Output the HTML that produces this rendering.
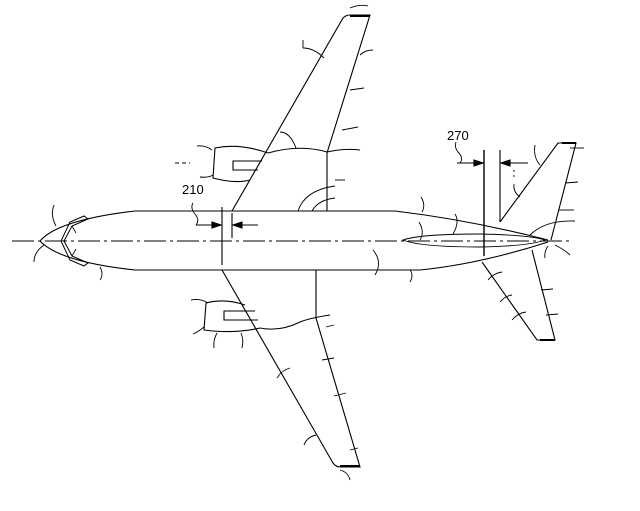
<!DOCTYPE html>
<html><head><meta charset="utf-8"><style>
html,body{margin:0;padding:0;background:#fff;width:640px;height:511px;overflow:hidden}
svg{display:block}
text{font-family:"Liberation Sans",sans-serif;font-size:13px;fill:#000;stroke:none}
</style></head><body>
<svg width="640" height="511" viewBox="0 0 640 511" fill="none" stroke="#000" stroke-width="1.1">
<line x1="12" y1="241" x2="572" y2="241" stroke-dasharray="22,4,3,4" stroke-width="0.9"/>
<path d="M40,241 Q58,220 135,211 L395,211 Q470,220 548,240"/>
<path d="M40,241 Q60,262 135,270 L420,270 Q480,264 548,242"/>
<path d="M403,240 Q420,234 480,234 Q530,235 545,240 Q530,246 480,247 Q420,247 403,240 Z" stroke-width="0.9"/>
<path d="M64,241 L72,226 L88,219 L84,216 L70,222 L61,241 L70,260 L84,266 L88,263 L72,256 Z" stroke-width="1"/>
<path d="M72,226 L76,233 M72,256 L76,249" stroke-width="0.8"/>
<path d="M232,211 L343,18 Q346,15 350,15 L370,15 L327,153 L327,211"/>
<line x1="350" y1="16" x2="370" y2="16" stroke-width="2"/>
<path d="M222,270 L333,463 Q336,467 340,467 L360,467 L316,318 L316,270"/>
<line x1="340" y1="466" x2="360" y2="466" stroke-width="2"/>
<path d="M268,153 Q240,143 215,148 L213,178 Q235,184 250,180"/>
<path d="M262,161 L233,161 L233,170 L258,170"/>
<path d="M268,153 Q300,144 327,152 Q345,148 360,150" stroke-width="1"/>
<path d="M245,305 Q225,298 206,303 L204,330 Q235,334 260,328"/>
<path d="M255,311 L224,311 L224,320 L258,320"/>
<path d="M260,328 Q280,332 300,322 Q310,318 330,315" stroke-width="1"/>
<path d="M500,222 L558,143 L576,143 L551,240"/>
<line x1="562" y1="143" x2="576" y2="143" stroke-width="2"/>
<path d="M482,262 L537,340 L555,340 L532,250"/>
<line x1="540" y1="340" x2="555" y2="340" stroke-width="2"/>
<path d="M298,211 Q305,190 335,186" stroke-width="0.9"/>
<path d="M312,211 Q318,200 335,198" stroke-width="0.9"/>
<path d="M530,235 Q545,220 575,221" stroke-width="0.9"/>
<line x1="222" y1="207" x2="222" y2="265"/>
<line x1="232" y1="213" x2="232" y2="238"/>
<line x1="196" y1="225" x2="222" y2="225"/>
<path d="M212,222 L221,225 L212,228 Z" fill="#000"/>
<line x1="232" y1="225" x2="258" y2="225"/>
<path d="M242,222 L233,225 L242,228 Z" fill="#000"/>
<path d="M196,225 Q200,220 195,214 Q190,208 193,203" stroke-width="0.9"/>
<text x="182" y="194">210</text>
<line x1="484" y1="150" x2="484" y2="256" stroke-width="1.4"/>
<line x1="500" y1="150" x2="500" y2="222"/>
<line x1="457" y1="163" x2="484" y2="163"/>
<path d="M474,160 L483,163 L474,166 Z" fill="#000"/>
<line x1="500" y1="163" x2="528" y2="163"/>
<path d="M510,160 L501,163 L510,166 Z" fill="#000"/>
<path d="M460,163 Q464,158 458,152 Q454,147 456,142" stroke-width="0.9"/>
<text x="447" y="140">270</text>
<g stroke-width="0.9">
<path d="M56,226 Q50,215 54,205"/>
<path d="M44,245 Q34,252 34,262"/>
<path d="M100,267 Q104,274 100,280"/>
<path d="M373,250 Q383,262 375,275"/>
<path d="M420,240 Q425,232 419,222"/>
<path d="M410,270 Q414,275 410,282"/>
<path d="M422,212 Q426,205 421,197"/>
<path d="M453,234 Q460,222 455,214"/>
<path d="M324,58 Q314,48 303,48"/>
<path d="M303,40 L303,48"/>
<path d="M296,148 Q290,132 280,132"/>
<path d="M350,8 Q360,4 368,6"/>
<path d="M360,55 Q365,50 373,50"/>
<path d="M350,90 L364,88"/>
<path d="M342,130 L358,127"/>
<path d="M335,180 L345,180"/>
<path d="M212,150 Q205,145 197,146"/>
<path d="M213,175 Q208,178 200,177"/>
<path d="M175,163 L190,163" stroke-dasharray="4,3"/>
<path d="M208,303 Q200,298 191,300"/>
<path d="M204,327 Q198,332 193,334"/>
<path d="M217,333 Q213,340 214,348"/>
<path d="M241,333 Q244,340 242,348"/>
<path d="M277,378 Q282,370 290,368"/>
<path d="M304,445 Q307,437 316,435"/>
<path d="M326,327 L334,325"/>
<path d="M322,360 L334,358"/>
<path d="M334,396 L346,393"/>
<path d="M350,450 L358,448"/>
<path d="M340,470 Q348,472 350,480"/>
<path d="M540,165 Q533,157 535,145"/>
<path d="M520,197 Q513,192 514,184"/>
<path d="M570,148 L584,148"/>
<path d="M565,183 L578,182"/>
<path d="M559,210 L574,210"/>
<path d="M555,245 Q565,250 570,255"/>
<path d="M548,246 Q544,252 545,258"/>
<path d="M488,280 Q494,273 502,272"/>
<path d="M500,302 Q505,296 512,295"/>
<path d="M512,320 Q518,313 526,312"/>
<path d="M541,290 L553,289"/>
<path d="M546,315 L558,314"/>
<path d="M514,170 L514,180" stroke-dasharray="2,3"/>
</g>
</svg>
</body></html>
